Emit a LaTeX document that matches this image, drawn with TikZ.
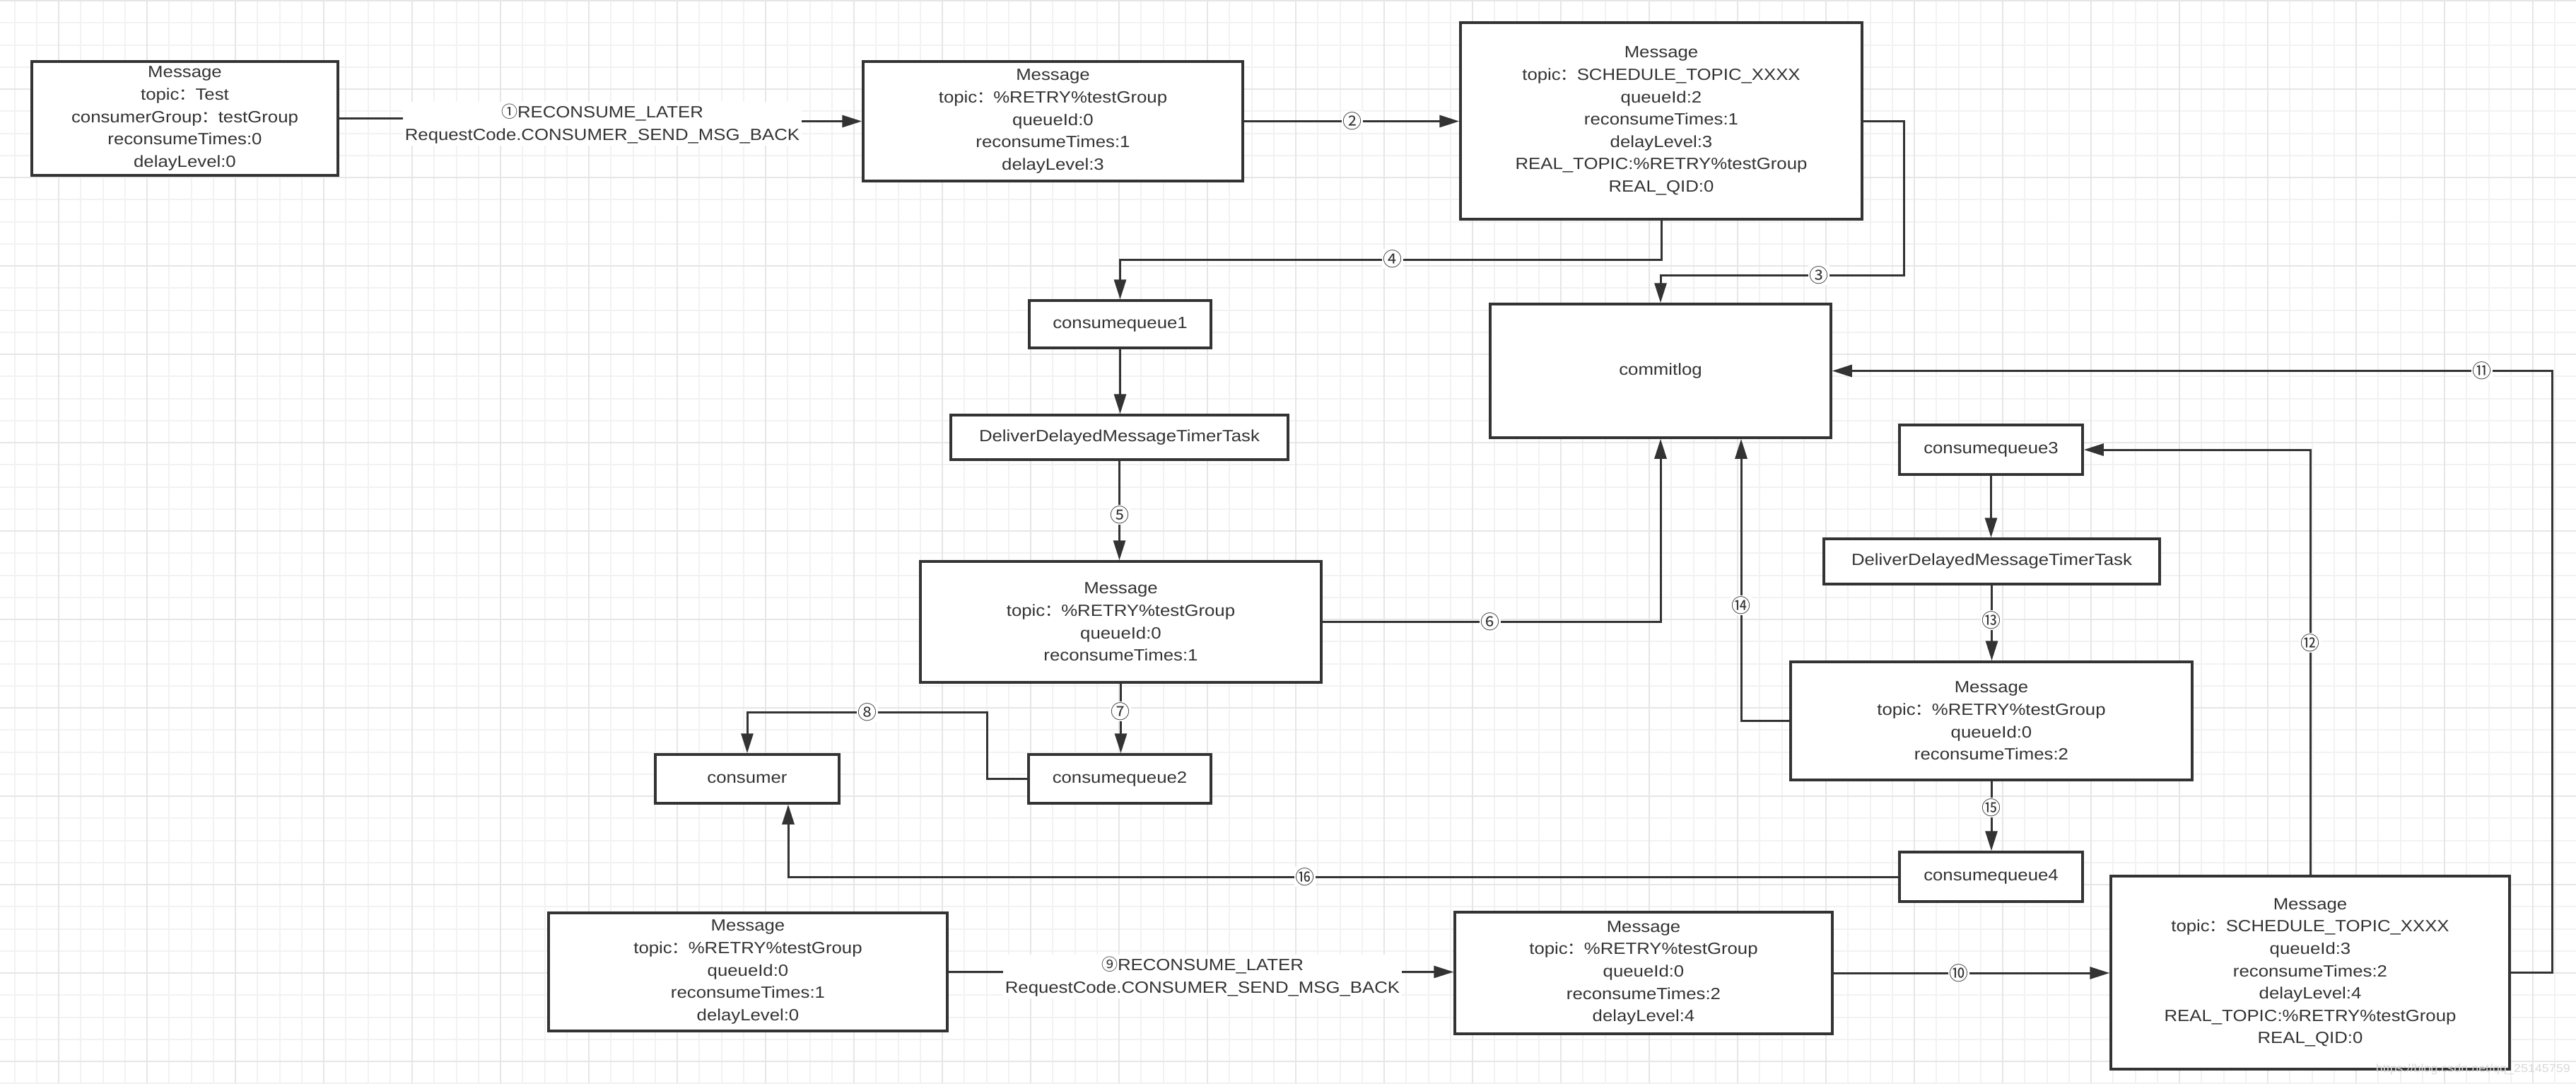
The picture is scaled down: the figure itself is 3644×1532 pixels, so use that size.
\documentclass[tikz,border=0pt]{standalone}
\usepackage{fontspec}
\setmainfont[FakeStretch=1.12]{Liberation Sans}
\newfontfamily\cjk{Noto Sans CJK SC}
\usetikzlibrary{arrows.meta}
\definecolor{ink}{HTML}{333333}
\definecolor{gridminor}{HTML}{F2F2F2}
\definecolor{gridmajor}{HTML}{E6E6E6}
\newcommand{\fw}{{\cjk ：}}
\begin{document}
\begin{tikzpicture}[x=1pt,y=-1pt,
  box/.style={draw=ink, line width=3.5pt, fill=white, align=center, text=ink,
    font=\fontsize{23}{31.6}\selectfont, inner sep=0pt},
  conn/.style={draw=ink, line width=3pt},
  arr/.style={conn, -{Triangle[length=28pt,width=17pt]}},
  num/.style={fill=white, text=ink, font=\cjk\fontsize{27}{27}\selectfont, inner sep=1.5pt},
  lab/.style={fill=white, text=ink, align=center, font=\fontsize{23}{32}\selectfont, inner sep=3pt}]
\useasboundingbox (0,0) rectangle (3644,1532);
\fill[white] (0,0) rectangle (3644,1532);
% grid
\foreach \i in {0,...,116} \draw[gridminor, line width=2pt] ({20.5+31.25*\i},0) -- ({20.5+31.25*\i},1532);
\foreach \i in {0,...,49} \draw[gridminor, line width=2pt] (0,{1+31.25*\i}) -- (3644,{1+31.25*\i});
\foreach \i in {0,...,28} \draw[gridmajor, line width=2.5pt] ({83+125*\i},0) -- ({83+125*\i},1532);
\foreach \i in {0,...,12} \draw[gridmajor, line width=2.5pt] (0,{1+125*\i}) -- (3644,{1+125*\i});

% nodes
\node[box, minimum width=433pt, minimum height=161pt] (m1) at (261.5,167.5)
  {Message\\topic\fw Test\\consumerGroup\fw testGroup\\reconsumeTimes:0\\delayLevel:0};
\node[box, minimum width=537pt, minimum height=169pt] (m2) at (1489.5,171.5)
  {Message\\topic\fw\%RETRY\%testGroup\\queueId:0\\reconsumeTimes:1\\delayLevel:3};
\node[box, minimum width=568pt, minimum height=278pt] (m3) at (2350,171)
  {Message\\topic\fw SCHEDULE\_TOPIC\_XXXX\\queueId:2\\reconsumeTimes:1\\delayLevel:3\\REAL\_TOPIC:\%RETRY\%testGroup\\REAL\_QID:0};
\node[box, minimum width=257pt, minimum height=67pt] (cq1) at (1584.5,458.5) {consumequeue1};
\node[box, minimum width=482pt, minimum height=189pt] (commit) at (2349,524.5) {commitlog};
\node[box, minimum width=477pt, minimum height=63pt] (dd1) at (1583.5,618.5) {DeliverDelayedMessageTimerTask};
\node[box, minimum width=567pt, minimum height=171pt] (m4) at (1585.5,879.5)
  {Message\\topic\fw\%RETRY\%testGroup\\queueId:0\\reconsumeTimes:1};
\node[box, minimum width=258pt, minimum height=69pt] (cq2) at (1584,1101.5) {consumequeue2};
\node[box, minimum width=260pt, minimum height=69pt] (consumer) at (1057,1101.5) {consumer};
\node[box, minimum width=259pt, minimum height=70pt] (cq3) at (2816.5,636) {consumequeue3};
\node[box, minimum width=475pt, minimum height=64pt] (dd2) at (2817.5,794) {DeliverDelayedMessageTimerTask};
\node[box, minimum width=568pt, minimum height=167pt] (m5) at (2817,1019.5)
  {Message\\topic\fw\%RETRY\%testGroup\\queueId:0\\reconsumeTimes:2};
\node[box, minimum width=259pt, minimum height=70pt] (cq4) at (2816.5,1240) {consumequeue4};
\node[box, minimum width=564pt, minimum height=167pt] (m6) at (1058,1374.5)
  {Message\\topic\fw\%RETRY\%testGroup\\queueId:0\\reconsumeTimes:1\\delayLevel:0};
\node[box, minimum width=534pt, minimum height=172pt] (m7) at (2325,1376)
  {Message\\topic\fw\%RETRY\%testGroup\\queueId:0\\reconsumeTimes:2\\delayLevel:4};
\node[box, minimum width=564pt, minimum height=273pt] (m8) at (3268,1375.5)
  {Message\\topic\fw SCHEDULE\_TOPIC\_XXXX\\queueId:3\\reconsumeTimes:2\\delayLevel:4\\REAL\_TOPIC:\%RETRY\%testGroup\\REAL\_QID:0};

% connectors
\draw[arr] (m1.east) -- (852,167.5) |- (m2.west);
\node[lab] (l1) at (852,175) {{\cjk ①}RECONSUME\_LATER\\RequestCode.CONSUMER\_SEND\_MSG\_BACK};
\draw[arr] (m2.east) -- (m3.west |- m2.east);
\node[num] (n2) at (1913,171.5) {②};
\draw[arr] (m3.east) -- (2693,171) -- (2693,389) -- (2349,389) -- (commit.north);
\node[num] (n3) at (2573,389) {③};
\draw[arr] (m3.south) -- ++(0,56) -| (cq1.north);
\node[num] (n4) at (1970,366) {④};
\draw[arr] (cq1.south) -- (cq1.south |- dd1.north);
\draw[arr] (dd1.south) -- (dd1.south |- m4.north);
\node[num] (n5) at (1584,728) {⑤};
\draw[arr] (m4.east) -| (commit.south);
\node[num] (n6) at (2108,879.5) {⑥};
\draw[arr] (m4.south) -- (m4.south |- cq2.north);
\node[num] (n7) at (1585,1006) {⑦};
\draw[arr] (cq2.west) -- (1396,1101.5) -- (1396,1007) -- (1057,1007) -- (consumer.north);
\node[num] (n8) at (1227,1007) {⑧};
\draw[arr] (m6.east) -- (m7.west |- m6.east);
\node[lab] (l9) at (1701,1381) {{\cjk ⑨}RECONSUME\_LATER\\RequestCode.CONSUMER\_SEND\_MSG\_BACK};
\draw[arr] (m7.east) -- (m8.west |- m7.east);
\node[num] (n10) at (2771,1376) {⑩};
\draw[arr] (m8.east) -- (3610,1375.5) |- (commit.east);
\node[num] (n11) at (3511,524.5) {⑪};
\draw[arr] (m8.north) |- (cq3.east);
\node[num] (n12) at (3268,909) {⑫};
\draw[arr] (cq3.south) -- (cq3.south |- dd2.north);
\draw[arr] (dd2.south) -- (dd2.south |- m5.north);
\node[num] (n13) at (2817,877) {⑬};
\draw[arr] (m5.west) -- (2463,1019.5) -- ([xshift=114pt]commit.south);
\node[num] (n14) at (2463,856) {⑭};
\draw[arr] (m5.south) -- (m5.south |- cq4.north);
\node[num] (n15) at (2817,1142) {⑮};
\draw[arr] (cq4.west) -- (1115,1240) -- ([xshift=58pt]consumer.south);
\node[num] (n16) at (1846,1240) {⑯};

\node[text=gray!30, font=\fontsize{16}{16}\selectfont, anchor=east, inner sep=0pt] (wm) at (3636,1512) {https://blog.csdn.net/qq\_25145759};
\end{tikzpicture}
\end{document}
